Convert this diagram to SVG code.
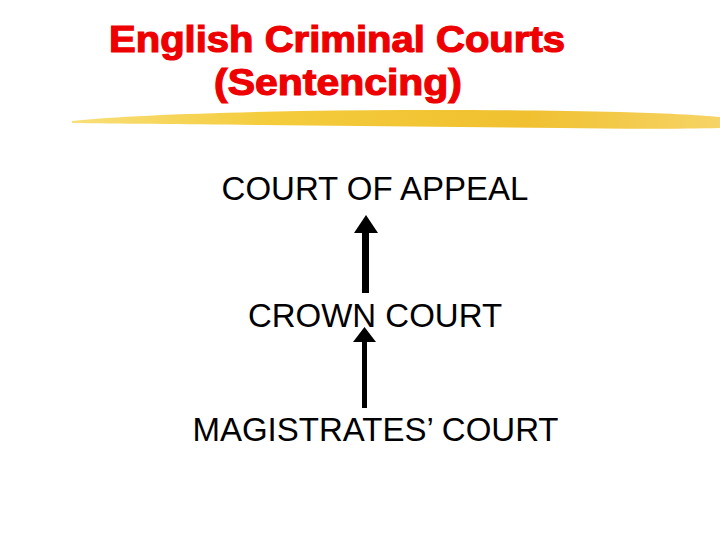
<svg xmlns="http://www.w3.org/2000/svg" width="720" height="540" viewBox="0 0 720 540">
<defs>
<style>
.title{font-family:"Liberation Sans",Arial,sans-serif;font-weight:bold;fill:#ee0000;stroke:#ee0000;stroke-width:1.2;font-size:37px;text-anchor:middle}
.lbl{font-family:"Liberation Sans",Arial,sans-serif;font-size:33px;fill:#000;text-anchor:middle}
</style>
<linearGradient id="brush" x1="0" y1="0" x2="1" y2="0">
<stop offset="0" stop-color="#f8df7a"/>
<stop offset="0.3" stop-color="#f4cc3c"/>
<stop offset="0.7" stop-color="#f0c030"/>
<stop offset="1" stop-color="#f6d466"/>
</linearGradient>
</defs>
<rect width="720" height="540" fill="#fff"/>
<g id="title">
<text class="title" x="337" y="52" textLength="456" lengthAdjust="spacingAndGlyphs">English Criminal Courts</text>
<text class="title" x="338" y="95" textLength="248" lengthAdjust="spacingAndGlyphs">(Sentencing)</text>
</g>
<path id="brushstroke" d="M72,121 C120,116 200,113 300,111 C420,109 540,110 620,112 C660,113 700,115 720,117 L720,128 C680,129 620,129 560,128 C460,127 360,126 260,125 C180,124 120,124 72,123 Z" fill="url(#brush)"/>
<g id="court-of-appeal"><text class="lbl" x="375" y="200">COURT OF APPEAL</text></g>
<g id="crown-court"><text class="lbl" x="375" y="327">CROWN COURT</text></g>
<g id="magistrates-court"><text class="lbl" x="375.5" y="441">MAGISTRATES’ COURT</text></g>
<g id="connectors" fill="#000">
<rect x="362" y="230" width="7" height="63"/>
<polygon points="366,215 354,233 378,233"/>
<rect x="362" y="338" width="5" height="70"/>
<polygon points="364.5,327 353,342 376,342"/>
</g>
</svg>
